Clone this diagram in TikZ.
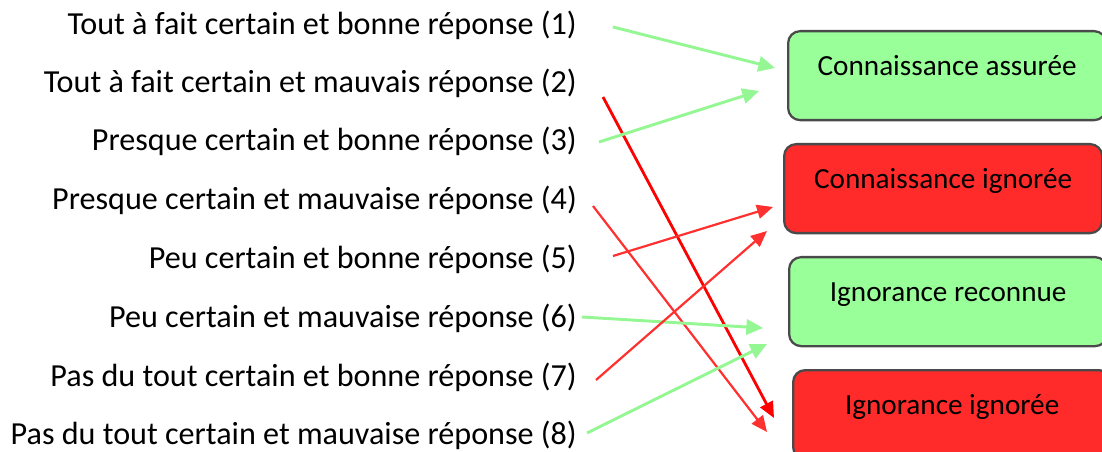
\documentclass[tikz,border=0pt]{standalone}
\usepackage{fontspec}
\setmainfont{Carlito}
\usetikzlibrary{arrows.meta}

\definecolor{vert}{HTML}{99FF99}
\definecolor{vertfl}{HTML}{94F794}
\definecolor{rouge}{HTML}{FF2B2B}
\definecolor{rougefl}{HTML}{FF3030}
\definecolor{bord}{HTML}{4A4A4A}

\begin{document}
\begin{tikzpicture}[x=0.75pt,y=-0.75pt,
    rep/.style={anchor=east,inner sep=0pt,font=\fontsize{24.1}{28}\selectfont},
    boite/.style={draw=bord,line width=1.7pt,rounded corners=9pt,anchor=north west,
        minimum width=238.5pt,inner sep=0pt,text height=33.5pt,text depth=33.25pt,
        font=\fontsize{21.9}{26}\selectfont},
    fv/.style={draw=vertfl,line width=2.2pt,-{Triangle[length=12.5pt,width=11.5pt]}},
    fr/.style={draw=rougefl,line width=1.65pt,-{Triangle[length=12pt,width=10.5pt]}}]
            \useasboundingbox (0,0) rectangle (1102,452);
            % les huit reponses
            \node[rep] (r1) at (577,25) {Tout à fait certain et bonne réponse (1)};
            \node[rep] (r2) at (577,83) {Tout à fait certain et mauvais réponse (2)};
            \node[rep] (r3) at (577,141) {Presque certain et bonne réponse (3)};
            \node[rep] (r4) at (577,200) {Presque certain et mauvaise réponse (4)};
            \node[rep] (r5) at (577,259) {Peu certain et bonne réponse (5)};
            \node[rep] (r6) at (577,318) {Peu certain et mauvaise réponse (6)};
            \node[rep] (r7) at (577,377) {Pas du tout certain et bonne réponse (7)};
            \node[rep] (r8) at (577,435) {Pas du tout certain et mauvaise réponse (8)};
            % les quatre categories
            \node[boite,fill=vert] (assuree) at (787,30) {Connaissance assurée};
            \node[boite,fill=rouge] (conign) at (783,143) {Connaissance ignorée};
            \node[boite,fill=vert] (ignrec) at (788,256) {Ignorance reconnue};
            \node[boite,fill=rouge] (ignign) at (792,369) {Ignorance ignorée};
            % debuts et fins des fleches
            \coordinate (s1) at (613,27);  \coordinate (e1) at (775,68);
            \coordinate (s2) at (603,97);  \coordinate (e2) at (774,418);
            \coordinate (s3) at (599,142); \coordinate (e3) at (759,91);
            \coordinate (s4) at (593,206); \coordinate (e4) at (767,432);
            \coordinate (s5) at (613,256); \coordinate (e5) at (773,207);
            \coordinate (s6) at (582,317); \coordinate (e6) at (763,328);
            \coordinate (s7) at (596,380); \coordinate (e7) at (767,231);
            \coordinate (s8) at (587,433); \coordinate (e8) at (767,344);
            \draw[fv] (s1)--(e1);
            \draw[fr,draw=red,line width=2.1pt] (s2)--(e2);
            \draw[fv] (s3)--(e3);
            \draw[fr] (s4)--(e4);
            \draw[fr] (s5)--(e5);
            \draw[fv] (s6)--(e6);
            \draw[fr] (s7)--(e7);
            \draw[fv] (s8)--(e8);
             \end{tikzpicture}
\end{document}
